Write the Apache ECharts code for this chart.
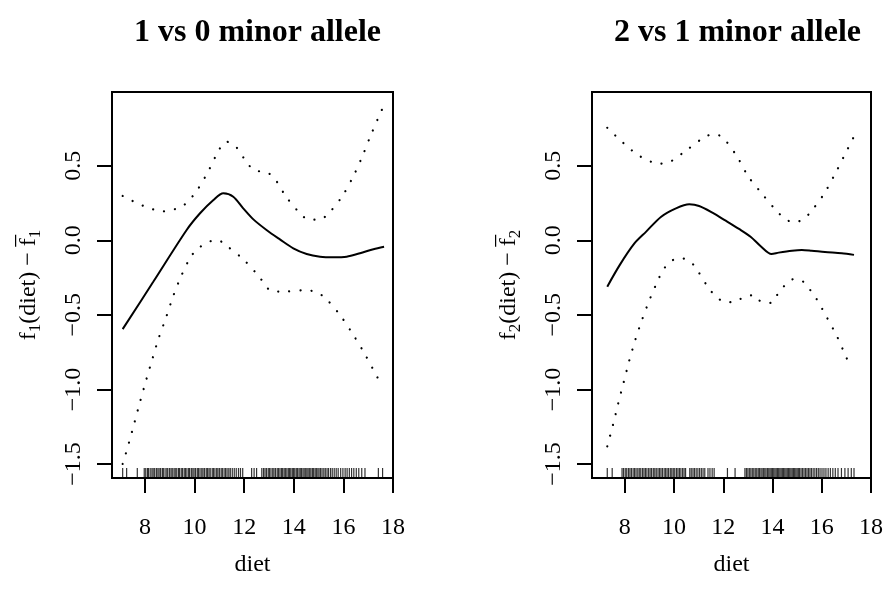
<!DOCTYPE html>
<html><head><meta charset="utf-8">
<script src="https://cdn.jsdelivr.net/npm/echarts@6/dist/echarts.min.js"></script>
<style>html,body{margin:0;padding:0;background:#fff}#c{width:886px;height:603px}</style>
</head><body><div id="c"></div>
<script>
// ---------- data ----------
const panelTitles = ['1 vs 0 minor allele', '2 vs 1 minor allele'];
const xAxisLabel = 'diet';
const xTicks = [8, 10, 12, 14, 16, 18];
const yTicks = [-1.5, -1.0, -0.5, 0.0, 0.5];

// panel 1 : fitted smooth
const fit1X = [7.10, 8.34, 9.68, 10.22, 10.76, 11.16, 11.56, 11.96, 12.37, 12.90, 13.44, 13.98, 14.52, 15.06, 15.59, 16.13, 16.67, 17.21, 17.64];
const fit1Y = [-0.596, -0.277, 0.069, 0.181, 0.270, 0.315, 0.292, 0.214, 0.140, 0.069, 0.006, -0.054, -0.092, -0.110, -0.114, -0.110, -0.087, -0.060, -0.043];
// panel 1 : upper band
const up1X = [7.10, 7.91, 8.74, 9.57, 10.15, 10.59, 10.98, 11.27, 11.63, 12.13, 12.44, 12.87, 13.22, 13.69, 14.25, 14.61, 15.03, 15.39, 15.94, 16.37, 16.74, 17.07, 17.42, 17.60];
const up1Y = [0.297, 0.232, 0.194, 0.236, 0.348, 0.475, 0.605, 0.661, 0.634, 0.516, 0.466, 0.459, 0.415, 0.292, 0.181, 0.138, 0.138, 0.178, 0.292, 0.419, 0.553, 0.690, 0.826, 0.893];
// panel 1 : lower band
const lo1X = [7.10, 7.35, 7.58, 7.81, 8.05, 8.30, 8.55, 8.85, 9.13, 9.45, 9.84, 10.14, 10.49, 10.92, 11.28, 11.96, 12.56, 13.13, 13.56, 14.45, 14.88, 15.26, 15.84, 16.33, 16.79, 17.21, 17.42];
const lo1Y = [-1.500, -1.360, -1.219, -1.078, -0.936, -0.795, -0.657, -0.518, -0.378, -0.244, -0.112, -0.056, -0.016, 0.002, -0.036, -0.127, -0.235, -0.342, -0.344, -0.335, -0.346, -0.386, -0.496, -0.616, -0.741, -0.869, -0.934];

// panel 2 : fitted smooth
const fit2X = [7.29, 7.80, 8.40, 8.87, 9.48, 10.08, 10.62, 11.02, 11.56, 12.10, 12.64, 13.11, 13.51, 13.96, 14.25, 14.79, 15.19, 15.59, 16.13, 16.81, 17.31];
const fit2Y = [-0.311, -0.165, -0.020, 0.058, 0.158, 0.214, 0.241, 0.230, 0.185, 0.131, 0.076, 0.024, -0.038, -0.092, -0.083, -0.070, -0.065, -0.070, -0.079, -0.087, -0.098];
// panel 2 : upper band
const up2X = [7.29, 7.93, 8.62, 9.42, 9.85, 10.57, 11.29, 11.68, 12.07, 12.58, 13.01, 13.56, 14.13, 14.44, 14.83, 15.23, 15.55, 16.08, 16.51, 16.91, 17.31];
const up2Y = [0.754, 0.654, 0.563, 0.513, 0.527, 0.612, 0.696, 0.712, 0.672, 0.556, 0.429, 0.315, 0.203, 0.154, 0.120, 0.138, 0.190, 0.308, 0.435, 0.565, 0.696];
// panel 2 : lower band
const lo2X = [7.29, 7.52, 7.73, 7.95, 8.17, 8.42, 8.70, 9.01, 9.36, 9.56, 9.85, 10.24, 10.66, 10.94, 11.41, 11.70, 12.07, 12.46, 12.83, 13.24, 13.56, 13.95, 14.21, 14.49, 14.85, 15.24, 15.53, 15.78, 16.21, 16.63, 16.98, 17.17];
const lo2Y = [-1.382, -1.239, -1.096, -0.956, -0.815, -0.672, -0.534, -0.398, -0.264, -0.199, -0.143, -0.119, -0.143, -0.199, -0.322, -0.375, -0.415, -0.415, -0.380, -0.368, -0.415, -0.420, -0.362, -0.304, -0.261, -0.277, -0.333, -0.391, -0.518, -0.648, -0.779, -0.846];

// rug of observed diet values
const rug1 = [7.10, 7.26, 7.69, 7.97, 8.03, 8.10, 8.14, 8.21, 8.28, 8.33, 8.39, 8.46, 8.52, 8.57, 8.63, 8.70, 8.74, 8.81, 8.88, 8.92, 8.99, 9.05, 9.10, 9.17, 9.22, 9.28, 9.35, 9.39, 9.46, 9.51, 9.58, 9.63, 9.69, 9.76, 9.80, 9.87, 9.93, 9.98, 10.04, 10.11, 10.16, 10.22, 10.29, 10.34, 10.40, 10.47, 10.52, 10.58, 10.63, 10.71, 10.76, 10.82, 10.89, 10.94, 11.00, 11.07, 11.12, 11.19, 11.25, 11.31, 11.38, 11.44, 11.52, 11.60, 11.68, 11.77, 11.85, 11.94, 12.30, 12.40, 12.50, 12.71, 12.78, 12.84, 12.90, 12.97, 13.02, 13.08, 13.15, 13.20, 13.26, 13.33, 13.38, 13.44, 13.50, 13.55, 13.61, 13.66, 13.72, 13.78, 13.83, 13.88, 13.94, 13.99, 14.04, 14.10, 14.15, 14.21, 14.26, 14.31, 14.37, 14.42, 14.48, 14.53, 14.58, 14.64, 14.69, 14.75, 14.80, 14.86, 14.91, 14.97, 15.02, 15.08, 15.14, 15.21, 15.27, 15.34, 15.40, 15.48, 15.55, 15.63, 15.71, 15.79, 15.89, 15.98, 16.07, 16.15, 16.24, 16.33, 16.42, 16.52, 16.62, 16.74, 16.87, 17.41, 17.58];
const rug2 = [7.29, 7.49, 7.89, 7.95, 8.02, 8.08, 8.15, 8.21, 8.27, 8.34, 8.40, 8.46, 8.53, 8.59, 8.65, 8.72, 8.78, 8.84, 8.90, 8.97, 9.03, 9.09, 9.16, 9.22, 9.28, 9.35, 9.41, 9.47, 9.53, 9.60, 9.66, 9.72, 9.78, 9.85, 9.91, 9.97, 10.03, 10.10, 10.16, 10.22, 10.28, 10.35, 10.41, 10.47, 10.64, 10.70, 10.77, 10.83, 10.90, 10.97, 11.04, 11.11, 11.18, 11.25, 11.38, 11.46, 11.55, 11.63, 12.17, 12.48, 12.88, 12.94, 13.00, 13.06, 13.12, 13.18, 13.24, 13.30, 13.36, 13.42, 13.47, 13.53, 13.58, 13.64, 13.69, 13.74, 13.80, 13.85, 13.90, 13.95, 14.00, 14.05, 14.10, 14.15, 14.20, 14.25, 14.30, 14.35, 14.40, 14.45, 14.50, 14.55, 14.60, 14.65, 14.70, 14.75, 14.80, 14.85, 14.90, 14.95, 15.00, 15.05, 15.10, 15.16, 15.22, 15.28, 15.34, 15.40, 15.46, 15.52, 15.58, 15.65, 15.72, 15.79, 15.86, 15.93, 16.01, 16.09, 16.17, 16.26, 16.35, 16.45, 16.55, 16.66, 16.80, 16.94, 17.07, 17.20, 17.31];

// ---------- layout / style ----------
const FONT = 'Liberation Serif';
const X_MIN = 6.67, X_MAX = 18.0;
const Y_MIN = -1.594, Y_MAX = 0.994;
const grids = [
  {left: 112, top: 92, width: 281, height: 386},
  {left: 592, top: 92, width: 281, height: 386}
];
const zip = (xs, ys) => xs.map((x, i) => [x, ys[i]]);
const fmtY = v => v.toFixed(1).replace('-', '\u2212');

const panels = [
  {fit: zip(fit1X, fit1Y), up: zip(up1X, up1Y), lo: zip(lo1X, lo1Y), rug: rug1, sub: '1'},
  {fit: zip(fit2X, fit2Y), up: zip(up2X, up2Y), lo: zip(lo2X, lo2Y), rug: rug2, sub: '2'}
];

const option = {
  animation: false,
  backgroundColor: '#fff',
  title: panelTitles.map((t, i) => ({
    text: t,
    left: grids[i].left + grids[i].width / 2,
    top: 12,
    textAlign: 'center',
    textStyle: {fontFamily: FONT, fontWeight: 'bold', fontSize: 32, color: '#000'}
  })),
  grid: grids.map(g => Object.assign({show: true, borderColor: '#000', borderWidth: 2, backgroundColor: 'transparent', containLabel: false}, g)),
  xAxis: grids.map((g, i) => ({
    type: 'value', gridIndex: i, min: X_MIN, max: X_MAX,
    name: xAxisLabel, nameLocation: 'middle', nameGap: 75,
    nameTextStyle: {fontFamily: FONT, fontSize: 24, color: '#000'},
    axisLine: {show: false, onZero: false},
    splitLine: {show: false},
    axisTick: {show: true, inside: false, length: 15, lineStyle: {color: '#000', width: 2}, customValues: xTicks},
    axisLabel: {show: true, margin: 38, fontFamily: FONT, fontSize: 24, color: '#000', customValues: xTicks}
  })),
  yAxis: grids.map((g, i) => ({
    type: 'value', gridIndex: i, min: Y_MIN, max: Y_MAX,
    name: '{t|f}{s|' + panels[i].sub + '}{t|(diet) \u2212 }{t|f\u0305}{s|' + panels[i].sub + '}',
    nameLocation: 'middle', nameGap: 68, nameRotate: 90,
    nameTextStyle: {
      fontFamily: FONT, fontSize: 24, color: '#000',
      rich: {
        t: {fontFamily: FONT, fontSize: 24, color: '#000'},
        s: {fontFamily: FONT, fontSize: 17, color: '#000', padding: [14, 0, 0, 0]}
      }
    },
    axisLine: {show: false, onZero: false},
    splitLine: {show: false},
    axisTick: {show: true, inside: false, length: 15, lineStyle: {color: '#000', width: 2}, customValues: yTicks},
    axisLabel: {show: true, rotate: 90, margin: 26, fontFamily: FONT, fontSize: 24, color: '#000', customValues: yTicks, formatter: fmtY}
  })),
  series: []
};

panels.forEach((p, i) => {
  option.series.push({
    type: 'line', xAxisIndex: i, yAxisIndex: i, data: p.fit, showSymbol: false, smooth: 0.3,
    lineStyle: {color: '#000', width: 2}
  });
  [p.up, p.lo].forEach(d => option.series.push({
    type: 'line', xAxisIndex: i, yAxisIndex: i, data: d, showSymbol: false, smooth: 0.3,
    lineStyle: {color: '#000', width: 2.2, type: [0.1, 11], cap: 'round'}
  }));
  option.series.push({
    type: 'scatter', xAxisIndex: i, yAxisIndex: i, clip: false,
    data: p.rug.map(x => [x, Y_MIN]),
    symbol: 'rect', symbolSize: [1.2, 10], symbolOffset: [0, -5],
    itemStyle: {color: '#000'}
  });
});

const chart = echarts.init(document.getElementById('c'), null, {renderer: 'canvas'});
chart.setOption(option);
</script>
</body></html>
